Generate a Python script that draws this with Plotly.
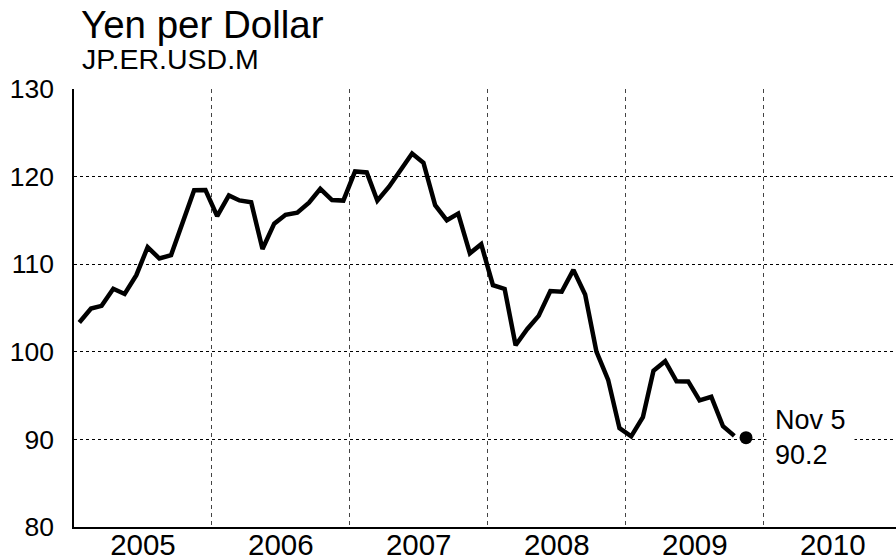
import plotly.graph_objects as go

# Monthly average yen per US dollar, Jan 2005 - Oct 2009 (plotted mid-month)
months = [f"{y}-{m:02d}-15" for y in range(2005, 2010) for m in range(1, 13)][:58]
rates = [
    103.34, 104.94, 105.25, 107.19, 106.60, 108.75, 111.95, 110.65, 111.04, 114.84, 118.45, 118.46,
    115.48, 117.86, 117.28, 117.07, 111.73, 114.63, 115.64, 115.89, 117.02, 118.61, 117.32, 117.26,
    120.59, 120.47, 117.25, 118.85, 120.76, 122.63, 121.58, 116.74, 115.01, 115.77, 111.24, 112.28,
    107.60, 107.18, 100.75, 102.60, 104.10, 106.94, 106.86, 109.35, 106.55, 100.02, 96.80, 91.28,
    90.35, 92.53, 97.83, 98.92, 96.63, 96.62, 94.46, 94.87, 91.50, 90.40,
]

# Latest daily reading
latest_date = "2009-11-15"
latest_label = "Nov 5"
latest_value = 90.2

title_text = "Yen per Dollar"
subtitle_text = "JP.ER.USD.M"
y_ticks = [80, 90, 100, 110, 120, 130]

FONT = "Liberation Sans, Arial, sans-serif"

fig = go.Figure()
fig.add_trace(go.Scatter(
    x=months, y=rates, mode="lines",
    line=dict(color="black", width=4.5),
    hoverinfo="skip",
))
fig.add_trace(go.Scatter(
    x=[latest_date], y=[latest_value], mode="markers",
    marker=dict(color="black", size=13),
    hoverinfo="skip",
))

fig.add_annotation(
    x=latest_date, y=latest_value, xref="x", yref="y",
    text=f"{latest_label}<br>{latest_value}",
    showarrow=False, xanchor="left", yanchor="middle", align="left",
    xshift=20, bgcolor="white", borderpad=8,
    font=dict(family=FONT, size=27, color="black"),
)
fig.add_annotation(
    x=0, y=1.1477, xref="paper", yref="paper", text=title_text,
    showarrow=False, xanchor="left", yanchor="middle", xshift=5,
    font=dict(family=FONT, size=38.5, color="black"),
)
fig.add_annotation(
    x=0, y=1.068, xref="paper", yref="paper", text=subtitle_text,
    showarrow=False, xanchor="left", yanchor="middle", xshift=6,
    font=dict(family=FONT, size=28.5, color="black"),
)

fig.update_layout(
    width=896, height=560,
    margin=dict(l=74, r=0, t=89, b=33),
    paper_bgcolor="white", plot_bgcolor="white",
    showlegend=False,
    font=dict(family=FONT, color="black"),
)
fig.update_xaxes(
    type="date", range=["2005-01-01", "2010-12-17"],
    tick0="2005-01-01", dtick="M12", tickformat="%Y",
    ticklabelmode="period", automargin=False, ticklabelstandoff=-9,
    showgrid=True, gridcolor="#444444", gridwidth=1, griddash="4px,4px",
    showline=True, linecolor="black", linewidth=1.5,
    ticks="", zeroline=False,
    tickfont=dict(family=FONT, size=29.5, color="black"),
)
fig.update_yaxes(
    range=[80, 130], tickvals=y_ticks, automargin=False,
    showgrid=True, gridcolor="black", gridwidth=1, griddash="3px,3px",
    showline=True, linecolor="black", linewidth=1.5,
    ticks="outside", ticklen=13, tickcolor="rgba(0,0,0,0)",
    zeroline=False,
    tickfont=dict(family=FONT, size=26.5, color="black"),
)

fig.write_html("out.html")
